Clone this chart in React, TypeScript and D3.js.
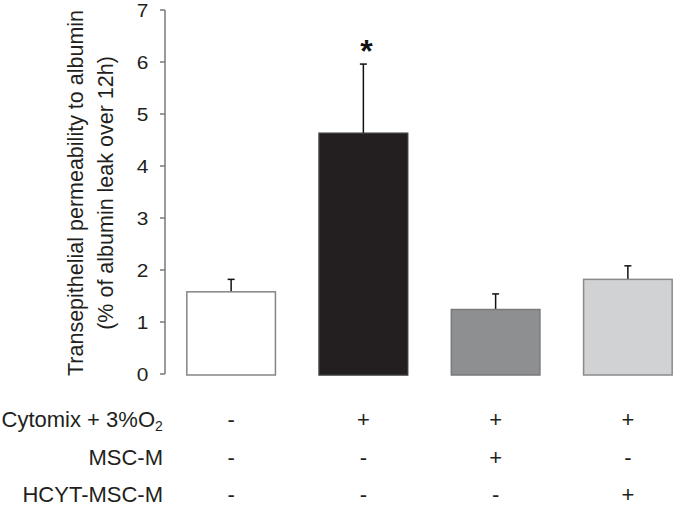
import React from "react";
import * as d3 from "d3";

const categories = ["Control", "Cytomix", "Cytomix + MSC-M", "Cytomix + HCYT-MSC-M"];
const means = [1.58, 4.63, 1.24, 1.82];
const errors = [0.24, 1.33, 0.30, 0.26];
const fills = ["#ffffff", "#231f20", "#8e8f91", "#d1d2d4"];
const strokes = ["#858585", "#3a3a3a", "#7a7a7a", "#8a8a8a"];
const significant = [false, true, false, false];
const yTicks = [0, 1, 2, 3, 4, 5, 6, 7];
const rowLabels = ["Cytomix + 3%O", "MSC-M", "HCYT-MSC-M"];
const rowSigns = [
  ["-", "+", "+", "+"],
  ["-", "-", "+", "-"],
  ["-", "-", "-", "+"],
];
const yTitle1 = "Transepithelial permeability to albumin";
const yTitle2 = "(% of albumin leak over 12h)";

const W = 678;
const H = 511;
const FONT = "'Liberation Sans', Arial, Helvetica, sans-serif";
const TEXT = "#231f20";

export default function App() {
  const y = d3.scaleLinear().domain([0, 7]).range([374, 10]);
  const x = d3
    .scaleBand<string>()
    .domain(categories)
    .range([165, 694])
    .paddingInner(0.33)
    .paddingOuter(0.165);
  const bw = x.bandwidth();
  const rowBaselines = [427, 465, 502];

  return (
    <svg
      width={W}
      height={H}
      style={{ position: "absolute", left: 0, top: 0, background: "#fff" }}
      fontFamily={FONT}
    >
      {/* y axis */}
      <line x1={165} x2={165} y1={y(7)} y2={y(0)} stroke="#7a7a7a" strokeWidth={1.5} />
      {yTicks.map((t) => (
        <g key={t}>
          <line x1={160} x2={165} y1={y(t)} y2={y(t)} stroke="#7a7a7a" strokeWidth={1.5} />
          <text
            transform={`translate(148.5,${y(t) + 6.5}) scale(1.1,1)`}
            textAnchor="end"
            fontSize={19}
            fill={TEXT}
          >
            {t}
          </text>
        </g>
      ))}
      {/* y title */}
      <text
        transform={`translate(83,193) rotate(-90)`}
        textAnchor="middle"
        fontSize={21.5}
        fill={TEXT}
      >
        {yTitle1}
      </text>
      <text
        transform={`translate(113,193) rotate(-90)`}
        textAnchor="middle"
        fontSize={21.5}
        fill={TEXT}
      >
        {yTitle2}
      </text>
      {/* bars */}
      {categories.map((c, i) => {
        const x0 = x(c)!;
        const cx = x0 + bw / 2;
        return (
          <g key={c}>
            <line
              x1={cx}
              x2={cx}
              y1={y(means[i])}
              y2={y(means[i] + errors[i])}
              stroke="#111"
              strokeWidth={1.5}
            />
            <line
              x1={cx - 3.5}
              x2={cx + 3.5}
              y1={y(means[i] + errors[i])}
              y2={y(means[i] + errors[i])}
              stroke="#111"
              strokeWidth={1.5}
            />
            <rect
              x={x0}
              y={y(means[i])}
              width={bw}
              height={y(0) - y(means[i]) + 1}
              fill={fills[i]}
              stroke={strokes[i]}
              strokeWidth={1.5}
            />
            {significant[i] && (
              <text
                x={cx + 3}
                y={y(means[i] + errors[i]) - 2}
                textAnchor="middle"
                fontSize={32}
                fontWeight="bold"
                fill="#111"
              >
                *
              </text>
            )}
          </g>
        );
      })}
      {/* condition table */}
      {rowLabels.map((lab, r) => (
        <g key={lab}>
          <text
            x={r === 0 ? 163 - 8 : 163}
            y={rowBaselines[r]}
            textAnchor="end"
            fontSize={22}
            fill={TEXT}
          >
            {lab}
          </text>
          {r === 0 && (
            <text x={163 - 8} y={rowBaselines[r] + 4} fontSize={14} fill={TEXT}>
              2
            </text>
          )}
          {rowSigns[r].map((s, i) => (
            <text
              key={i}
              x={x(categories[i])! + bw / 2}
              y={rowBaselines[r]}
              textAnchor="middle"
              fontSize={22}
              fill={TEXT}
            >
              {s}
            </text>
          ))}
        </g>
      ))}
    </svg>
  );
}
